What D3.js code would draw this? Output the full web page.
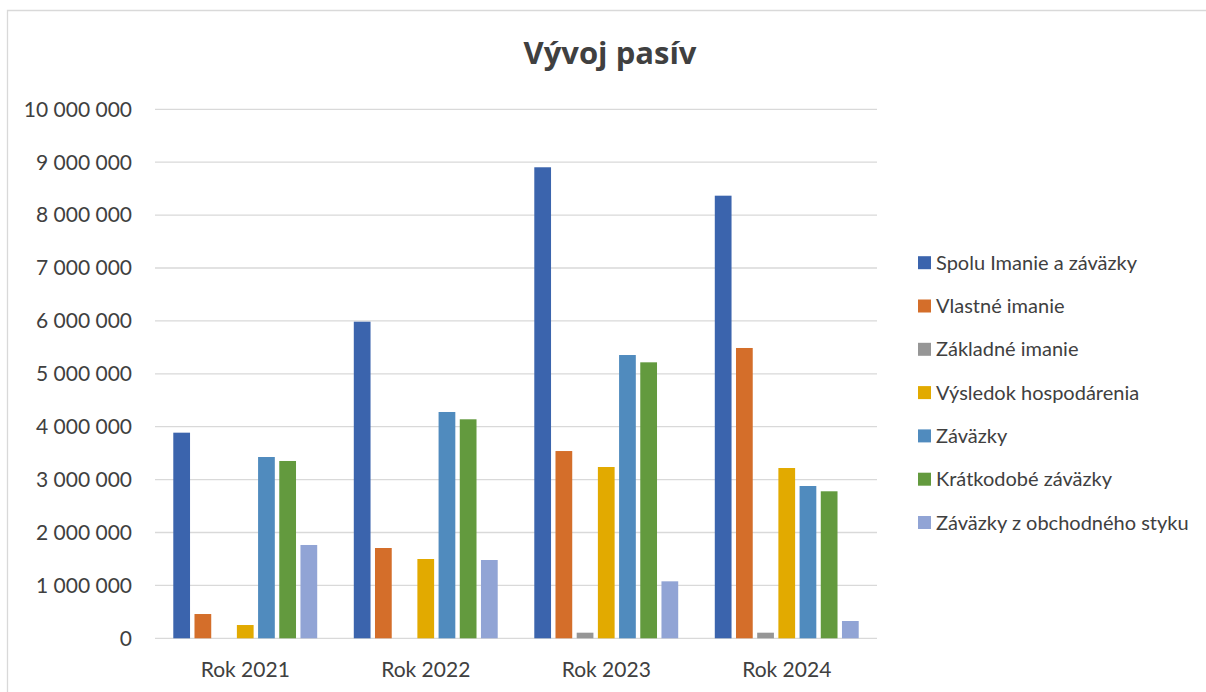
<!DOCTYPE html>
<html lang="sk">
<head>
  <meta charset="utf-8">
  <script src="https://d3js.org/d3.v7.min.js"></script>
  <title>Vývoj pasív</title>
  <style>
    body { margin: 0; background: #fff; }
    text { font-family: Lato, "Open Sans", sans-serif; fill: #404040; }
    .grid line { stroke: #d9d9d9; stroke-width: 1.3px; }
    .title { font-family: "Open Sans", sans-serif; font-size: 31px; font-weight: bold; }
  </style>
</head>
<body>
<svg id="chart" width="1206" height="692"></svg>
<script>

// categories and series
var years = ["Rok 2021", "Rok 2022", "Rok 2023", "Rok 2024"];
var series = ["Spolu Imanie a záväzky", "Vlastné imanie", "Základné imanie",
              "Výsledok hospodárenia", "Záväzky", "Krátkodobé záväzky",
              "Záväzky z obchodného styku"];
var colors = ["#3b64ad", "#d46e2a", "#969696", "#e2aa00", "#508bbe", "#639a3e", "#91a4d5"];

// values per series, one per year
var spolu       = [3887000, 5985000, 8904000, 8367000];
var vlastne     = [459000, 1707000, 3540000, 5488000];
var zakladne    = [0, 0, 106000, 106000];
var vysledok    = [251000, 1499000, 3238000, 3219000];
var zavazky     = [3427000, 4278000, 5355000, 2879000];
var kratkodobe  = [3352000, 4140000, 5217000, 2779000];
var obchodne    = [1764000, 1480000, 1077000, 327000];

var yTicks = d3.range(0, 10000001, 1000000);

var values = [spolu, vlastne, zakladne, vysledok, zavazky, kratkodobe, obchodne];

var svg = d3.select("#chart");

// chart frame (left + top edge only visible)
svg.append("path")
    .attr("d", "M7.5,692 V10.5 H1206")
    .attr("fill", "none")
    .attr("stroke", "#d9d9d9")
    .attr("stroke-width", 1.3);

var margin = {left: 155, right: 877, top: 109.3, bottom: 638.3};

var x0 = d3.scaleBand()
    .domain(years)
    .range([margin.left, margin.right])
    .paddingInner(0.178)
    .paddingOuter(0.089);

var x1 = d3.scaleBand()
    .domain(series)
    .range([0, x0.bandwidth()])
    .paddingInner(0.21)
    .paddingOuter(0.105);

var y = d3.scaleLinear()
    .domain([0, 10000000])
    .range([margin.bottom, margin.top]);

var fmt = function(d) { return d3.format(",")(d).replace(/,/g, " "); };

// gridlines
svg.append("g")
    .attr("class", "grid")
  .selectAll("line")
  .data(yTicks)
  .enter().append("line")
    .attr("x1", margin.left)
    .attr("x2", margin.right)
    .attr("y1", function(d) { return y(d); })
    .attr("y2", function(d) { return y(d); });

// y axis labels
svg.append("g")
  .selectAll("text")
  .data(yTicks)
  .enter().append("text")
    .attr("x", 132)
    .attr("y", function(d) { return y(d); })
    .attr("dy", "0.35em")
    .attr("text-anchor", "end")
    .style("font-size", "21px")
    .text(fmt);

// bars
var groups = svg.append("g")
  .selectAll("g")
  .data(years)
  .enter().append("g")
    .attr("transform", function(d) { return "translate(" + x0(d) + ",0)"; });

groups.selectAll("rect")
  .data(function(d, i) { return series.map(function(s, j) { return {key: s, value: values[j][i], c: colors[j]}; }); })
  .enter().append("rect")
    .attr("x", function(d) { return x1(d.key); })
    .attr("y", function(d) { return y(d.value); })
    .attr("width", x1.bandwidth())
    .attr("height", function(d) { return y(0) - y(d.value); })
    .attr("fill", function(d) { return d.c; });

// x labels
svg.append("g")
  .selectAll("text")
  .data(years)
  .enter().append("text")
    .attr("x", function(d) { return x0(d) + x0.bandwidth() / 2; })
    .attr("y", 677)
    .attr("text-anchor", "middle")
    .style("font-size", "21px")
    .text(function(d) { return d; });

// title
svg.append("text")
    .attr("class", "title")
    .attr("x", 610)
    .attr("y", 64)
    .attr("text-anchor", "middle")
    .text("Vývoj pasív");

// legend
var legend = svg.append("g")
  .selectAll("g")
  .data(series)
  .enter().append("g")
    .attr("transform", function(d, i) { return "translate(918," + (262.7 + i * 43.3) + ")"; });

legend.append("rect")
    .attr("x", 0)
    .attr("y", -6.5)
    .attr("width", 13)
    .attr("height", 13)
    .attr("fill", function(d, i) { return colors[i]; });

legend.append("text")
    .attr("x", 18)
    .attr("dy", "0.35em")
    .style("font-size", "20px")
    .text(function(d) { return d; });

</script>
</body>
</html>
